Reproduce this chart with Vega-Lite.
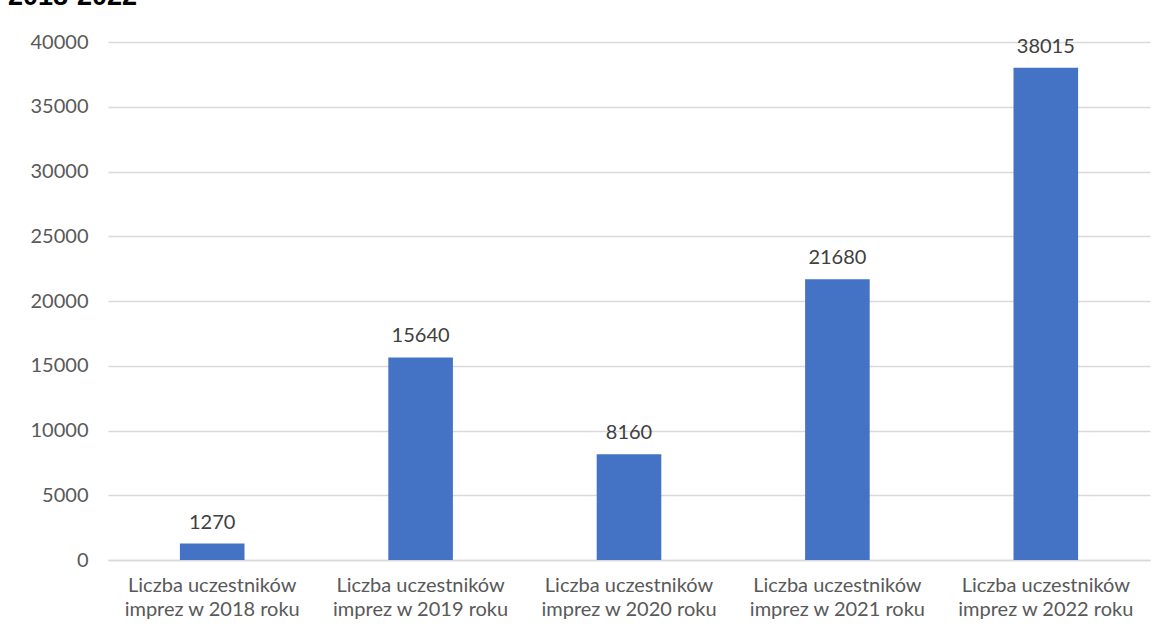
{
  "$schema": "https://vega.github.io/schema/vega-lite/v6.json",
  "width": 1042,
  "height": 518,
  "autosize": {"type": "none"},
  "padding": {"left": 108, "top": 42, "right": 19, "bottom": 77},
  "background": "white",
  "title": {
    "text": "2018-2022",
    "anchor": "start",
    "frame": "group",
    "font": "Liberation Sans",
    "fontSize": 27,
    "fontWeight": "bold",
    "color": "#000000",
    "baseline": "alphabetic",
    "dx": -100,
    "offset": 0
  },
  "config": {
    "view": {"stroke": null},
    "font": "Lato"
  },
  "data": {
    "values": [
      {"kategoria": "Liczba uczestników imprez w 2018 roku", "liczba": 1270},
      {"kategoria": "Liczba uczestników imprez w 2019 roku", "liczba": 15640},
      {"kategoria": "Liczba uczestników imprez w 2020 roku", "liczba": 8160},
      {"kategoria": "Liczba uczestników imprez w 2021 roku", "liczba": 21680},
      {"kategoria": "Liczba uczestników imprez w 2022 roku", "liczba": 38015}
    ]
  },
  "encoding": {
    "x": {
      "field": "kategoria",
      "type": "nominal",
      "sort": null,
      "scale": {"paddingInner": 0.69, "paddingOuter": 0.345},
      "axis": {
        "title": null,
        "labelAngle": 0,
        "labelExpr": "split(replace(datum.value, ' imprez', '|imprez'), '|')",
        "labelFont": "Lato",
        "labelFontSize": 20,
        "labelColor": "#595959",
        "labelLineHeight": 24,
        "labelPadding": 15,
        "ticks": false,
        "domainColor": "#d9d9d9",
        "domainWidth": 1.5
      }
    },
    "y": {
      "field": "liczba",
      "type": "quantitative",
      "scale": {"domain": [0, 40000], "nice": false},
      "axis": {
        "title": null,
        "format": "d",
        "values": [0, 5000, 10000, 15000, 20000, 25000, 30000, 35000, 40000],
        "labelFont": "Lato",
        "labelFontSize": 20,
        "labelColor": "#595959",
        "labelPadding": 20,
        "ticks": false,
        "domain": false,
        "gridColor": "#d9d9d9",
        "gridWidth": 1.5
      }
    }
  },
  "layer": [
    {"mark": {"type": "bar", "color": "#4472c4"}},
    {
      "mark": {
        "type": "text",
        "baseline": "bottom",
        "dy": -11,
        "font": "Lato",
        "fontSize": 20,
        "color": "#404040"
      },
      "encoding": {"text": {"field": "liczba", "type": "quantitative", "format": "d"}}
    }
  ]
}
